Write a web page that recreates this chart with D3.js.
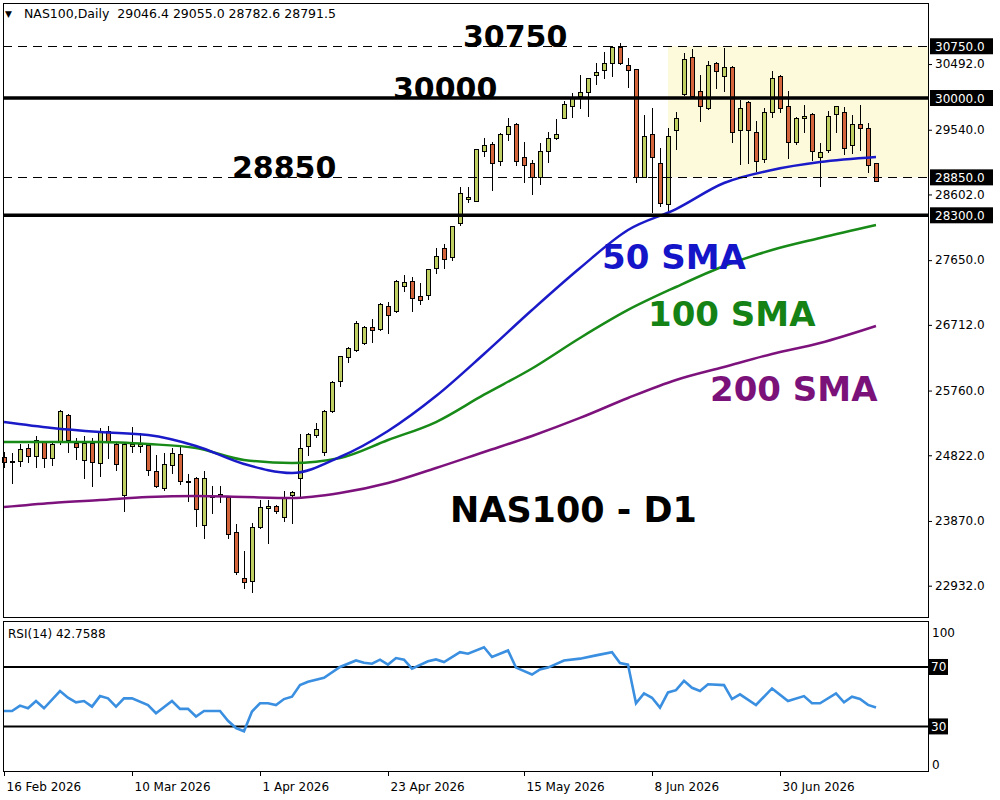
<!DOCTYPE html>
<html>
<head>
<meta charset="utf-8">
<script src="https://cdn.jsdelivr.net/npm/d3@7"></script>
<style>
  body { margin: 0; background: #fff; }
  svg { display: block; font-family: "DejaVu Sans", sans-serif; }
</style>
</head>
<body>
<div id="chart"></div>
<script>
// Daily candles, bar 0 = 16 Feb 2026
const opens = [24784, 24735, 24726, 24914, 24798, 25015, 24769, 25015, 25392, 24986,
  24740, 24986, 24697, 25160, 24972, 24233, 24943, 24943, 24957, 24581,
  24334, 24668, 24827, 24445, 24479, 23798, 24225, 24247, 24204, 23697,
  23030, 22987, 23769, 24045, 24074, 23914, 24233, 24479, 24943, 25102,
  24856, 25450, 25885, 26233, 26334, 26435, 26667, 26638, 26972, 26899,
  27261, 27334, 27117, 27131, 27522, 27812, 27682, 28174, 28536, 28493,
  29218, 29333, 29073, 29464, 29623, 29145, 29058, 28855, 29218, 29406,
  29696, 29870, 30015, 30073, 30319, 30392, 30493, 30725, 30464, 30406,
  28841, 29464, 29058, 28450, 29522, 30058, 30594, 30101, 29855, 30507,
  30305, 30435, 29522, 29928, 29493, 29116, 29783, 30305, 29870, 29348,
  29710, 29768, 29131, 29232, 29754, 29797, 29305, 29623, 29551, 29046.4];
const highs = [24871, 24856, 24986, 24986, 25102, 25030, 25015, 25479, 25421, 25073,
  25102, 25073, 25218, 25247, 25015, 25001, 25233, 25146, 25001, 24827,
  24856, 24929, 24943, 24552, 24508, 24595, 24378, 24378, 24233, 23827,
  23436, 23842, 24175, 24175, 24103, 24305, 24305, 25131, 25146, 25291,
  25479, 25899, 26262, 26392, 26769, 26696, 26798, 27030, 27044, 27363,
  27435, 27406, 27319, 27522, 27827, 27884, 28146, 28710, 28710, 29250,
  29420, 29362, 29493, 29710, 29638, 29362, 29102, 29348, 29507, 29696,
  29957, 30073, 30334, 30280, 30507, 30667, 30754, 30797, 30580, 30420,
  29754, 29855, 29276, 29565, 29797, 30652, 30710, 30334, 30536, 30522,
  30725, 30464, 29971, 29957, 29667, 29855, 30392, 30334, 30101, 29725,
  29899, 29783, 29348, 29812, 29875, 29870, 29754, 29899, 29638, 29055.0];
const lows = [24639, 24407, 24653, 24711, 24639, 24639, 24668, 24972, 24856, 24755,
  24479, 24363, 24508, 24769, 24595, 24001, 24856, 24856, 24523, 24349,
  24305, 24552, 24392, 24146, 23784, 23610, 23972, 24132, 23610, 23088,
  22885, 22827, 23760, 23537, 23972, 23856, 23827, 24219, 24813, 25073,
  24813, 25435, 25812, 26160, 26320, 26421, 26450, 26624, 26580, 26885,
  27189, 26899, 27001, 27073, 27450, 27522, 27638, 28146, 28478, 28490,
  29145, 28652, 29015, 29377, 29015, 28768, 28594, 28740, 29058, 29391,
  29690, 29710, 29841, 29725, 30189, 30276, 30305, 30485, 30145, 28768,
  28835, 28334, 28420, 28334, 29247, 30029, 30015, 29652, 29826, 30131,
  30087, 29348, 29029, 29044, 28928, 29058, 29710, 29783, 29116, 29319,
  29493, 29087, 28710, 29203, 29493, 29174, 29189, 29232, 28913, 28782.6];
const closes = [24711, 24728, 24900, 24798, 25030, 24769, 24972, 25450, 25030, 24929,
  24986, 24711, 25146, 25015, 24682, 24972, 24972, 24972, 24595, 24363,
  24682, 24841, 24436, 24438, 24030, 24479, 24215, 24219, 23668, 23117,
  22972, 23769, 24059, 24074, 24001, 24204, 24276, 24914, 25117, 25189,
  25450, 25870, 26247, 26363, 26725, 26667, 26624, 27000, 26841, 27334,
  27319, 27088, 27059, 27508, 27696, 27653, 28131, 28623, 28565, 29247,
  29305, 29058, 29464, 29594, 29087, 29015, 28841, 29218, 29406, 29478,
  29913, 29986, 30087, 30276, 30363, 30507, 30739, 30493, 30392, 28855,
  29435, 29145, 28478, 29449, 29696, 30565, 30029, 29870, 30464, 30377,
  30435, 29507, 29855, 29522, 29073, 29797, 30276, 29855, 29348, 29696,
  29739, 29218, 29203, 29725, 29870, 29261, 29623, 29551, 29015, 28791.5];

// moving averages, sampled every few bars
const smaIdx = [0, 6, 12, 18, 24, 30, 36, 42, 48, 54, 60, 66, 72, 78, 84, 90, 96, 102, 109];
const sma50 = [25304, 25217, 25159, 25116, 24957, 24696, 24565, 24797, 25174, 25680,
  26290, 26927, 27536, 28087, 28391, 28768, 28957, 29072, 29145];
const sma100 = [25014, 25014, 25014, 24985, 24927, 24754, 24710, 24783, 25043, 25304,
  25700, 26080, 26522, 26928, 27261, 27565, 27797, 27971, 28159];
const sma200 = [24072, 24131, 24174, 24217, 24232, 24217, 24203, 24275, 24420, 24638,
  24870, 25102, 25363, 25652, 25913, 26102, 26290, 26449, 26696];

// RSI(14)
const rsiIdx = [0, 1, 2, 3, 4, 5, 7, 8, 9, 10, 11, 12, 13, 14, 15, 16, 18, 19, 21, 22,
  23, 24, 25, 27, 28, 29, 30, 31, 32, 33, 34, 35, 36, 37, 38, 40, 42, 44, 45, 46,
  47, 48, 49, 50, 51, 53, 54, 55, 57, 58, 60, 61, 63, 64, 66, 67, 68, 70, 72, 74,
  76, 77, 78, 79, 80, 81, 82, 83, 84, 85, 86, 87, 88, 90, 91, 92, 94, 96, 98, 100,
  101, 102, 104, 105, 106, 107, 108, 109];
const rsiVal = [40.4, 40.4, 44, 42.2, 47.1, 42.2, 53.8, 49.3, 46.2, 47.1, 43.3, 50.4, 48.9, 43.3, 48.9, 48.9, 44.4, 38.9, 47.1, 41.8,
  41.8, 36.7, 40.4, 40.4, 33.8, 28.9, 26.7, 40, 45.6, 45.6, 44.4, 48.4, 50, 57.8, 60, 62.7, 70, 74.4, 72.9, 72.2,
  74.9, 71.6, 76, 74.9, 68.9, 73.8, 75.1, 73.3, 80, 78.9, 83.3, 76.7, 81.1, 69.6, 64.9, 68.4, 69.6, 74.4, 75.6, 77.8,
  80, 72.7, 71.6, 45.6, 52.2, 49.3, 42.7, 52.9, 54.4, 60.7, 56, 53.8, 58.4, 57.8, 48.4, 51.6, 44.4, 55.6, 47.1, 50.4,
  45.6, 45.6, 52.2, 46.2, 50, 48.5, 44.5, 42.76];
const rsiLevels = [70, 30];
const rsiLabels = [100, 0];

// horizontal levels and price scale
const solidLevels = [30000, 28300];
const dashedLevels = [30750, 28850];
const levelTexts = [30750, 30000, 28850];
const priceTicks = [30492, 29540, 28602, 27650, 26712, 25760, 24822, 23870, 22932];
const boxRange = { from: 83, high: 30750, low: 28850 };

// date axis
const dateIdx = [0, 16, 32, 48, 65, 81, 97];
const dateLabels = ["16 Feb 2026", "10 Mar 2026", "1 Apr 2026", "23 Apr 2026", "15 May 2026", "8 Jun 2026", "30 Jun 2026"];

const smaLabels = [
  { text: "50 SMA", color: "#1414c8", idx: 74.75, value: 27522 },
  { text: "100 SMA", color: "#148214", idx: 80.5, value: 26696 },
  { text: "200 SMA", color: "#7a127a", idx: 88.25, value: 25609 }
];

const width = 1000;
const height = 800;
const plotLeft = 3, plotRight = 928;
const mainTop = 3, mainBottom = 617;
const rsiTop = 621, rsiBottom = 771;

const svg = d3.select("#chart")
  .append("svg")
  .attr("width", width)
  .attr("height", height);

// Scales
const xScale = d3.scaleLinear().domain([0, 109]).range([4, 876]);
const yScale = d3.scaleLinear().domain([22478, 31377]).range([mainBottom, mainTop]);
const rsiScale = d3.scaleLinear().domain([0, 100]).range([rsiBottom, 622.4]);

const main = svg.append("g");

// yellow range box
main.append("rect")
  .attr("x", xScale(boxRange.from))
  .attr("y", yScale(boxRange.high))
  .attr("width", plotRight - xScale(boxRange.from))
  .attr("height", yScale(boxRange.low) - yScale(boxRange.high))
  .attr("fill", "#fdfadc");

// Candles
const candles = opens.map((o, i) => ({ i, o, h: highs[i], l: lows[i], c: closes[i] }));

const cg = main.append("g").attr("shape-rendering", "crispEdges");
cg.selectAll("line")
  .data(candles)
  .enter()
  .append("line")
  .attr("x1", (d) => xScale(d.i) + 0.5)
  .attr("x2", (d) => xScale(d.i) + 0.5)
  .attr("y1", (d) => yScale(d.h))
  .attr("y2", (d) => yScale(d.l))
  .attr("stroke", "#000")
  .attr("stroke-width", 1);

cg.selectAll("rect")
  .data(candles)
  .enter()
  .append("rect")
  .attr("x", (d) => xScale(d.i) - 1.5)
  .attr("y", (d) => yScale(Math.max(d.o, d.c)))
  .attr("width", 4)
  .attr("height", (d) => Math.max(1, Math.abs(yScale(d.o) - yScale(d.c))))
  .attr("fill", (d) => (d.c >= d.o ? "#bfcf62" : "#d4643c"))
  .attr("stroke", "#000")
  .attr("stroke-width", 1);

// Moving averages
const smaLine = (vals) =>
  d3.line()
    .x((d, k) => xScale(smaIdx[k]))
    .y((d) => yScale(d))
    .curve(d3.curveMonotoneX)(vals);

[[sma200, "#7d127d"], [sma100, "#178a17"], [sma50, "#1a1ac8"]].forEach(([vals, col]) => {
  main.append("path")
    .attr("d", smaLine(vals))
    .attr("fill", "none")
    .attr("stroke", col)
    .attr("stroke-width", 2.5);
});

// big labels
main.selectAll(".lvl")
  .data(levelTexts)
  .enter()
  .append("text")
  .attr("x", (d, k) => [463, 393, 232][k])
  .attr("y", (d) => yScale(d) + 1)
  .attr("font-size", 30)
  .attr("font-weight", "bold")
  .attr("fill", "#000")
  .text((d) => d);

smaLabels.forEach((s) => {
  main.append("text")
    .attr("x", xScale(s.idx))
    .attr("y", yScale(s.value))
    .attr("font-size", 34)
    .attr("font-weight", "bold")
    .attr("fill", s.color)
    .text(s.text);
});

main.append("text")
  .attr("x", 450)
  .attr("y", 522)
  .attr("font-size", 35)
  .attr("font-weight", "bold")
  .attr("fill", "#000")
  .text("NAS100 - D1");

// Level lines
main.selectAll(".solid")
  .data(solidLevels)
  .enter()
  .append("line")
  .attr("x1", plotLeft)
  .attr("x2", plotRight)
  .attr("y1", (d) => yScale(d))
  .attr("y2", (d) => yScale(d))
  .attr("stroke", "#000")
  .attr("stroke-width", 3.5);

main.selectAll(".dash")
  .data(dashedLevels)
  .enter()
  .append("line")
  .attr("x1", plotLeft)
  .attr("x2", plotRight)
  .attr("y1", (d) => Math.round(yScale(d)) + 0.5)
  .attr("y2", (d) => Math.round(yScale(d)) + 0.5)
  .attr("stroke", "#000")
  .attr("stroke-width", 1)
  .attr("stroke-dasharray", "9,6");

// Price axis on the right
const yAxis = d3.axisRight(yScale)
  .tickValues(priceTicks)
  .tickSize(4)
  .tickPadding(3)
  .tickFormat(d3.format(".1f"));

const ya = svg.append("g")
  .attr("transform", `translate(${plotRight}, 0)`)
  .call(yAxis);
ya.select(".domain").remove();
ya.selectAll("text").attr("font-size", 12).attr("font-family", "DejaVu Sans").attr("fill", "#000");

// highlighted level labels
const hl = svg.append("g");
[...dashedLevels, ...solidLevels].forEach((v) => {
  const yy = yScale(v);
  hl.append("rect")
    .attr("x", plotRight + 2)
    .attr("y", yy - 8)
    .attr("width", 63)
    .attr("height", 16)
    .attr("fill", "#000");
  hl.append("text")
    .attr("x", plotRight + 7)
    .attr("y", yy + 4.5)
    .attr("font-size", 12)
    .attr("fill", "#fff")
    .text(d3.format(".1f")(v));
});

// header
svg.append("text").attr("x", 5).attr("y", 17).attr("font-size", 9).text("▼");
svg.append("text")
  .attr("x", 24)
  .attr("y", 18)
  .attr("font-size", 12.5)
  .attr("xml:space", "preserve")
  .text("NAS100,Daily  29046.4 29055.0 28782.6 28791.5");

// panel frames
svg.append("rect")
  .attr("x", plotLeft + 0.5).attr("y", mainTop + 0.5)
  .attr("width", plotRight - plotLeft).attr("height", mainBottom - mainTop)
  .attr("fill", "none").attr("stroke", "#000");

// RSI panel
const rsiG = svg.append("g");
rsiG.append("rect")
  .attr("x", plotLeft + 0.5).attr("y", rsiTop + 0.5)
  .attr("width", plotRight - plotLeft).attr("height", rsiBottom - rsiTop)
  .attr("fill", "none").attr("stroke", "#000");

rsiG.selectAll(".rl")
  .data(rsiLevels)
  .enter()
  .append("line")
  .attr("x1", plotLeft)
  .attr("x2", plotRight)
  .attr("y1", (d) => rsiScale(d))
  .attr("y2", (d) => rsiScale(d))
  .attr("stroke", "#000")
  .attr("stroke-width", 2);

rsiG.append("path")
  .datum(rsiVal)
  .attr("d", d3.line().x((d, k) => xScale(rsiIdx[k])).y((d) => rsiScale(d)))
  .attr("fill", "none")
  .attr("stroke", "#3a8fe0")
  .attr("stroke-width", 2.6);

rsiG.append("text")
  .attr("x", 8)
  .attr("y", 638)
  .attr("font-size", 12)
  .text("RSI(14) 42.7588");

rsiLabels.forEach((v) => {
  rsiG.append("text")
    .attr("x", plotRight + 4)
    .attr("y", v === 100 ? 637 : 769)
    .attr("font-size", 12)
    .text(v);
});
rsiLevels.forEach((v) => {
  const yy = rsiScale(v);
  rsiG.append("rect")
    .attr("x", plotRight + 1)
    .attr("y", yy - 8)
    .attr("width", 19)
    .attr("height", 16)
    .attr("fill", "#000");
  rsiG.append("text")
    .attr("x", plotRight + 3)
    .attr("y", yy + 4.5)
    .attr("font-size", 12)
    .attr("fill", "#fff")
    .text(v);
});

// Date axis
const xAxis = d3.axisBottom(xScale)
  .tickValues(dateIdx)
  .tickSize(5)
  .tickFormat((d, k) => dateLabels[k]);

const xa = svg.append("g")
  .attr("transform", `translate(0, ${rsiBottom})`)
  .call(xAxis);
xa.select(".domain").remove();
xa.selectAll("text")
  .attr("text-anchor", "start")
  .attr("x", 2)
  .attr("y", 11)
  .attr("dy", "0.71em")
  .attr("font-size", 12)
  .attr("font-family", "DejaVu Sans")
  .attr("fill", "#000");
</script>
</body>
</html>
